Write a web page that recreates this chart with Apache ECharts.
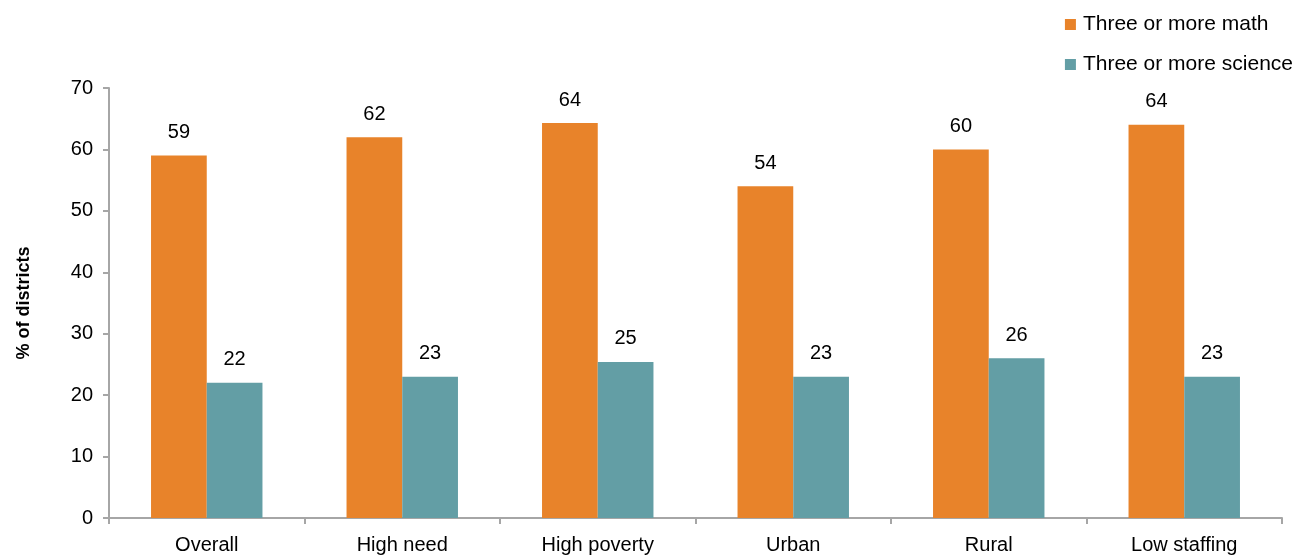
<!DOCTYPE html>
<html><head><meta charset="utf-8">
<script src="https://cdn.jsdelivr.net/npm/echarts@6/dist/echarts.min.js"></script>
<style>html,body{margin:0;padding:0;background:#fff}#c{width:1299px;height:558px}</style>
</head><body><div id="c"></div>
<script>
const categories = ['Overall','High need','High poverty','Urban','Rural','Low staffing'];
const mathValues = [59, 62, 64.3, 54, 60, 64];
const scienceValues = [22, 23, 25.4, 23, 26, 23];
const seriesNames = ['Three or more math','Three or more science'];
const yTicks = {min: 0, max: 70, interval: 10};

const chart = echarts.init(document.getElementById('c'));
const font = 'Liberation Sans, Arial, sans-serif';
const lbl = {show: true, position: 'top', distance: 13, color: '#000', fontSize: 20, fontFamily: font,
  formatter: p => Math.round(p.value)};
chart.setOption({
  animation: false,
  textStyle: {fontFamily: font},
  legend: {
    orient: 'vertical', right: 1, top: 9, itemGap: 19,
    itemWidth: 11, itemHeight: 11, icon: 'rect',
    textStyle: {fontSize: 21, color: '#000', fontFamily: font, padding: [0,0,0,2]},
    data: seriesNames
  },
  grid: {left: 109, right: 17, top: 88, bottom: 40, containLabel: false},
  xAxis: {
    type: 'category', data: categories,
    axisLine: {lineStyle: {color: '#a6a6a6', width: 2}},
    axisTick: {show: true, length: 6, lineStyle: {color: '#a6a6a6', width: 2}},
    axisLabel: {color: '#000', fontSize: 20, fontFamily: font, margin: 17}
  },
  yAxis: {
    type: 'value', min: yTicks.min, max: yTicks.max, interval: yTicks.interval,
    name: '% of districts', nameLocation: 'middle', nameGap: 76, nameRotate: 90,
    nameTextStyle: {fontSize: 18, fontWeight: 'bold', color: '#000', fontFamily: font},
    splitLine: {show: false},
    axisLine: {show: true, lineStyle: {color: '#a6a6a6', width: 2}},
    axisTick: {show: true, length: 6, lineStyle: {color: '#a6a6a6', width: 2}},
    axisLabel: {color: '#000', fontSize: 20, fontFamily: font, margin: 16}
  },
  series: [
    {name: seriesNames[0], type: 'bar', data: mathValues, barGap: '0%', barCategoryGap: '43%',
     itemStyle: {color: '#E8832A'}, label: lbl},
    {name: seriesNames[1], type: 'bar', data: scienceValues, barGap: '0%', barCategoryGap: '43%',
     itemStyle: {color: '#639EA5'}, label: lbl}
  ]
});
</script></body></html>
